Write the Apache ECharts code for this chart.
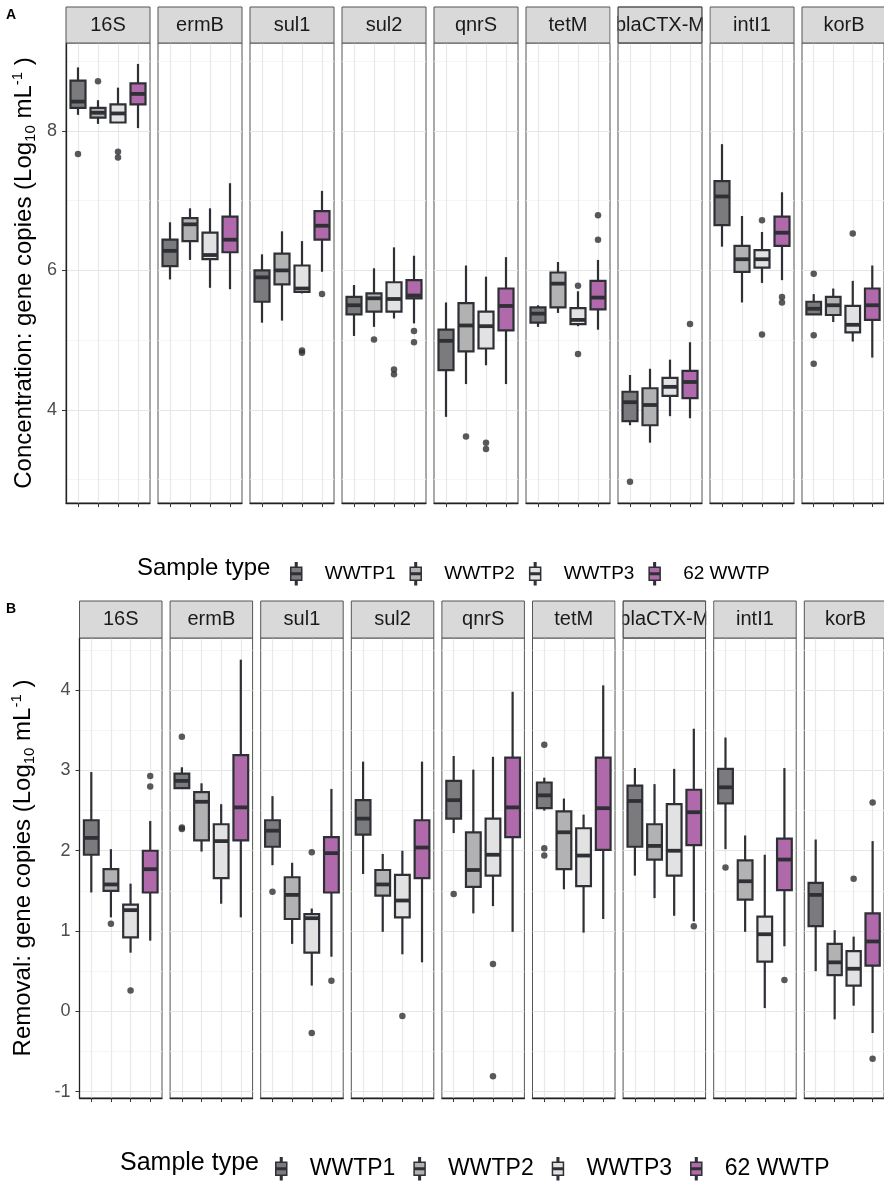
<!DOCTYPE html>
<html><head><meta charset="utf-8">
<script src="https://cdn.jsdelivr.net/npm/echarts@6/dist/echarts.min.js"></script>
<style>html,body{margin:0;padding:0;background:#fff}#c{width:884px;height:1181px}</style>
</head><body><div id="c"></div><script>
// ---------------- DATA ----------------
const genes = ['16S','ermB','sul1','sul2','qnrS','tetM','blaCTX-M','intI1','korB'];
const groups = ['WWTP1','WWTP2','WWTP3','62 WWTP'];
const concTicks = [4,6,8];
const remTicks = [-1,0,1,2,3,4];
// Panel A: concentration, per gene [min, q1, median, q3, max]
const concWWTP1 = [[8.23,8.33,8.42,8.72,8.91],[5.87,6.06,6.28,6.44,6.69],[5.25,5.55,5.90,6.00,6.23],[5.06,5.37,5.50,5.62,5.79],[3.90,4.57,4.99,5.15,5.54],[5.19,5.25,5.38,5.47,5.50],[3.78,3.84,4.11,4.26,4.50],[6.34,6.65,7.06,7.28,7.81],[5.37,5.37,5.45,5.55,5.66]];
const concWWTP2 = [[8.10,8.19,8.26,8.33,8.44],[6.15,6.42,6.66,6.75,6.89],[5.28,5.80,6.00,6.24,6.56],[5.19,5.41,5.60,5.67,6.03],[4.37,4.84,5.21,5.53,6.07],[5.39,5.47,5.81,5.97,6.12],[3.53,3.78,4.07,4.31,4.59],[5.54,5.98,6.16,6.35,6.78],[5.26,5.36,5.50,5.62,5.74]];
const concWWTP3 = [[8.12,8.12,8.25,8.38,8.62],[5.75,6.16,6.22,6.54,6.89],[5.67,5.69,5.74,6.07,6.42],[5.31,5.41,5.59,5.83,6.33],[4.64,4.88,5.20,5.41,5.91],[5.20,5.23,5.29,5.46,5.70],[3.91,4.20,4.33,4.46,4.72],[5.82,6.04,6.16,6.29,6.55],[4.98,5.11,5.22,5.49,5.85]];
const conc62WWTP = [[8.04,8.38,8.53,8.68,8.96],[5.73,6.26,6.44,6.77,7.25],[5.98,6.44,6.64,6.85,7.14],[5.24,5.60,5.64,5.86,6.21],[4.37,5.14,5.49,5.74,6.19],[5.15,5.44,5.61,5.85,6.15],[3.88,4.17,4.40,4.56,4.97],[5.86,6.35,6.54,6.77,7.12],[4.75,5.29,5.50,5.74,6.07]];
// outliers: [geneIndex, groupIndex, value]
const concOutliers = [[0,0,7.67],[0,1,8.71],[0,2,7.70],[0,2,7.62],[2,2,4.85],[2,2,4.82],[2,3,5.66],[3,1,5.01],[3,2,4.58],[3,2,4.51],[3,3,5.13],[3,3,4.97],[4,1,3.62],[4,2,3.53],[4,2,3.44],[5,2,5.78],[5,2,4.80],[5,3,6.79],[5,3,6.44],[6,0,2.97],[6,3,5.23],[7,2,6.72],[7,2,5.08],[7,3,5.62],[7,3,5.54],[8,0,5.95],[8,0,5.07],[8,0,4.66],[8,2,6.53]];
// Panel B: removal
const remWWTP1 = [[1.48,1.95,2.16,2.38,2.98],[2.78,2.78,2.87,2.96,3.04],[1.82,2.05,2.25,2.38,2.68],[1.71,2.20,2.40,2.63,3.11],[2.22,2.40,2.63,2.87,3.18],[2.50,2.53,2.69,2.85,2.91],[1.69,2.05,2.62,2.81,3.03],[2.02,2.59,2.79,3.02,3.41],[0.50,1.06,1.45,1.60,2.14]];
const remWWTP2 = [[1.17,1.50,1.58,1.77,2.02],[1.99,2.13,2.61,2.73,2.84],[0.84,1.15,1.45,1.67,1.85],[0.99,1.44,1.58,1.76,1.96],[1.22,1.55,1.76,2.23,3.01],[1.52,1.77,2.23,2.49,2.65],[1.41,1.89,2.06,2.33,2.83],[0.99,1.39,1.62,1.88,2.19],[-0.10,0.45,0.61,0.84,1.01]];
const remWWTP3 = [[0.73,0.92,1.26,1.33,1.59],[1.34,1.66,2.12,2.33,2.58],[0.32,0.73,1.16,1.21,1.28],[0.71,1.17,1.38,1.70,2.00],[1.31,1.69,1.95,2.40,3.17],[0.98,1.56,1.94,2.28,2.45],[1.19,1.69,2.00,2.58,3.02],[0.04,0.62,0.96,1.18,1.95],[0.07,0.32,0.53,0.75,0.93]];
const rem62WWTP = [[0.88,1.48,1.77,2.00,2.37],[1.17,2.13,2.54,3.19,4.38],[0.68,1.48,1.97,2.17,2.77],[0.61,1.66,2.04,2.38,3.11],[0.99,2.17,2.54,3.16,3.98],[1.15,2.01,2.53,3.16,4.06],[1.12,2.07,2.48,2.76,3.52],[0.81,1.51,1.89,2.15,3.03],[-0.27,0.57,0.87,1.22,2.12]];
const remOutliers = [[0,1,1.09],[0,2,0.26],[0,3,2.93],[0,3,2.80],[1,0,3.42],[1,0,2.29],[1,0,2.27],[2,0,1.49],[2,2,1.98],[2,2,-0.27],[2,3,0.38],[3,2,-0.06],[4,0,1.46],[4,2,0.59],[4,2,-0.81],[5,0,3.32],[5,0,2.03],[5,0,1.94],[6,3,1.06],[7,0,1.79],[7,3,0.39],[8,2,1.65],[8,3,2.60],[8,3,-0.59]];

// ---------------- STYLE / LAYOUT ----------------
const FONT = 'Liberation Sans, Arial, sans-serif';
const fills = ['#7b7b7d','#b2b2b2','#e2e2e2','#b06aab'];
const STROKE = '#2e3035';
const panels = [
  {key:'A', boxes:[concWWTP1,concWWTP2,concWWTP3,conc62WWTP], outliers:concOutliers, ticks:concTicks, minor:[3,5,7,9],
   min:2.665, max:9.26, left:66, step:92, width:84, top:43, height:460, stripTop:7, stripH:36,
   title:'Concentration', nameGap:28, legendTop:557, legendLeft:285, legendFont:19, legendGap:14, legendPad:18, sampleFont:24, sampleX:137},
  {key:'B', boxes:[remWWTP1,remWWTP2,remWWTP3,rem62WWTP], outliers:remOutliers, ticks:remTicks, minor:[-0.5,0.5,1.5,2.5,3.5,4.5],
   min:-1.08, max:4.65, left:79.5, step:90.6, width:82.5, top:638, height:460, stripTop:601, stripH:37,
   title:'Removal', nameGap:42, legendTop:1152, legendLeft:270, legendFont:23, legendGap:18, legendPad:18, sampleFont:25, sampleX:120}
];

function makeRender(color){
  return function(params, api){
    const x = api.value(0);
    const lo = api.coord([x, api.value(1)]);
    const q1 = api.coord([x, api.value(2)]);
    const md = api.coord([x, api.value(3)]);
    const q3 = api.coord([x, api.value(4)]);
    const hi = api.coord([x, api.value(5)]);
    const w = api.size([0.75, 0])[0];
    return {type:'group', children:[
      {type:'line', shape:{x1:lo[0],y1:lo[1],x2:q1[0],y2:q1[1]}, style:{stroke:STROKE, lineWidth:2.2}},
      {type:'line', shape:{x1:q3[0],y1:q3[1],x2:hi[0],y2:hi[1]}, style:{stroke:STROKE, lineWidth:2.2}},
      {type:'rect', shape:{x:q3[0]-w/2, y:q3[1], width:w, height:q1[1]-q3[1]}, style:{fill:color, stroke:STROKE, lineWidth:2.2}},
      {type:'line', shape:{x1:md[0]-w/2,y1:md[1],x2:md[0]+w/2,y2:md[1]}, style:{stroke:STROKE, lineWidth:3.8}}
    ]};
  };
}

const grid=[], xAxis=[], yAxis=[], series=[], graphic=[], legend=[];
panels.forEach((P, pi) => {
  genes.forEach((gname, g) => {
    const gi = grid.length;
    const left = P.left + g*P.step;
    grid.push({left:left, top:P.top, width:P.width, height:P.height, show:true, borderColor:'#555', borderWidth:1, backgroundColor:'#fff'});
    xAxis.push({type:'value', gridIndex:gi, min:-0.6, max:3.6,
      axisLine:{show:true, onZero:false, lineStyle:{color:'#222', width:1.3}},
      axisTick:{show:true, length:4, customValues:[0,1,2,3], lineStyle:{color:'#333', width:1}},
      axisLabel:{show:false},
      splitLine:{show:true, lineStyle:{color:'#e8e8e8', width:1.2}}});
    const first = g===0;
    const yMain = yAxis.length;
    yAxis.push({type:'value', gridIndex:gi, min:P.min, max:P.max,
      axisLine:{show:first, onZero:false, lineStyle:{color:'#222', width:1.3}},
      axisTick:{show:first, length:4, customValues:P.ticks, lineStyle:{color:'#333'}},
      axisLabel:{show:first, customValues:P.ticks, color:'#4d4d4d', fontSize:18, fontFamily:FONT, margin:9},
      splitLine:{show:true, lineStyle:{color:'#e6e6e6', width:1.2}},
      name: first ? '{a|'+P.title+': gene copies (Log}{b|10}{a| mL}{c|-1}{a| )}' : '',
      nameLocation:'middle', nameRotate:90, nameGap:P.nameGap,
      nameTextStyle:{fontFamily:FONT, rich:{
        a:{fontSize:24, color:'#000', fontFamily:FONT, lineHeight:28},
        b:{fontSize:15, color:'#000', fontFamily:FONT, verticalAlign:'bottom', lineHeight:15},
        c:{fontSize:15, color:'#000', fontFamily:FONT, verticalAlign:'top', lineHeight:15}}}
    });
    yAxis.push({type:'value', gridIndex:gi, min:P.min, max:P.max,
      axisLine:{show:false, onZero:false}, axisTick:{show:false, customValues:P.minor}, axisLabel:{show:false},
      splitLine:{show:true, lineStyle:{color:'#f3f3f3', width:0.8}}, z:0});
    groups.forEach((gr, k) => {
      const v = P.boxes[k][g];
      series.push({type:'custom', name:gr, xAxisIndex:gi, yAxisIndex:yMain,
        itemStyle:{color:fills[k], borderColor:STROKE},
        renderItem:makeRender(fills[k]),
        encode:{x:0, y:[1,2,3,4,5]},
        data:[[k, v[0], v[1], v[2], v[3], v[4]]], z:3, silent:true, animation:false});
    });
    const outs = P.outliers.filter(o => o[0]===g).map(o => [o[1], o[2]]);
    series.push({type:'scatter', name:'outliers', xAxisIndex:gi, yAxisIndex:yMain, data:outs,
      symbolSize:6.5, itemStyle:{color:STROKE}, z:4, silent:true, animation:false});
    // strip
    graphic.push({type:'rect', shape:{x:left, y:P.stripTop, width:P.width, height:P.stripH},
      style:{fill:'#d9d9d9', stroke:'#555', lineWidth:1}, z:10});
    graphic.push({type:'text', x:left+P.width/2, y:P.stripTop+P.stripH/2,
      style:{text:gname, fontSize:20, fontFamily:FONT, fill:'#1a1a1a', align:'center', verticalAlign:'middle'}, z:11});
    if (gname==='blaCTX-M'){
      graphic.push({type:'rect', shape:{x:left-P.step+P.width+0.6, y:P.stripTop-1, width:P.step-P.width-1.2, height:P.stripH+2}, style:{fill:'#fff'}, z:12});
      graphic.push({type:'rect', shape:{x:left+P.width+0.6, y:P.stripTop-1, width:P.step-P.width-1.2, height:P.stripH+2}, style:{fill:'#fff'}, z:12});
      graphic.push({type:'rect', shape:{x:left, y:P.stripTop, width:P.width, height:P.stripH}, style:{fill:'none', stroke:'#555', lineWidth:1}, z:13});
    }
  });
  graphic.push({type:'text', x:6, y:P.stripTop+1, style:{text:P.key, fontSize:14, fontWeight:'bold', fontFamily:FONT, fill:'#000'}, z:11});
  graphic.push({type:'text', x:P.sampleX, y:P.legendTop+11, style:{text:'Sample type', fontSize:P.sampleFont, fontFamily:FONT, fill:'#000', verticalAlign:'middle'}, z:11});
  legend.push({data:groups, left:P.legendLeft, top:P.legendTop, orient:'horizontal', selectedMode:false,
    icon:'path://M4.3,0h1.4v4h-1.4z M0,4h10v5.4h-10z M0,10.6h10v5.4h-10z M4.3,16h1.4v4h-1.4z',
    itemWidth:11, itemHeight:22, itemGap:P.legendGap,
    itemStyle:{borderColor:STROKE, borderWidth:1.5},
    textStyle:{fontSize:P.legendFont, fontFamily:FONT, color:'#000', padding:[0,0,0,P.legendPad]}});
});

const chart = echarts.init(document.getElementById('c'), null, {renderer:'canvas'});
chart.setOption({animation:false, grid, xAxis, yAxis, series, graphic, legend});
</script></body></html>
